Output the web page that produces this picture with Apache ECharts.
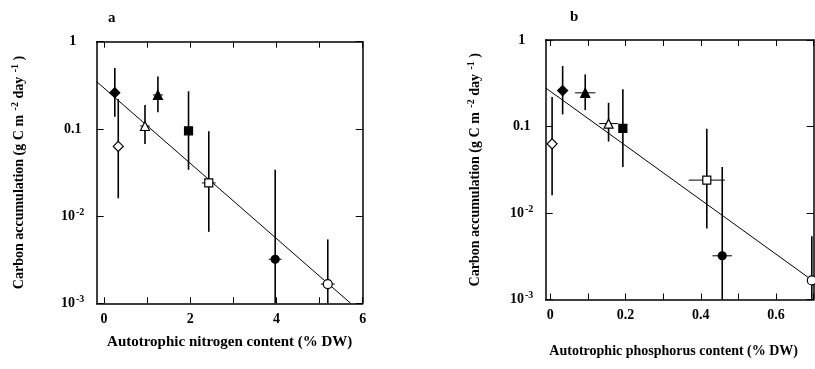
<!DOCTYPE html>
<html>
<head>
<meta charset="utf-8">
<script src="https://cdn.jsdelivr.net/npm/echarts@6/dist/echarts.min.js"></script>
<style>
html,body{margin:0;padding:0;background:#fff;}
#chart{width:815px;height:369px;}
</style>
</head>
<body>
<div id="chart"></div>
<script>
// ---- data (shared carbon accumulation values, g C m-2 day-1) ----
const carbonAcc   = [0.26, 0.063, 0.108, 0.245, 0.095, 0.024, 0.0032, 0.00166];
const carbonLow   = [0.138, 0.016, 0.067, 0.155, 0.034, 0.0066, 0.001, 0.001];
const carbonHigh  = [0.50, 0.22, 0.188, 0.40, 0.27, 0.094, 0.034, 0.0054];
// panel a: autotrophic nitrogen content (% DW)
const nitrogen    = [0.25, 0.33, 0.95, 1.25, 1.96, 2.43, 3.97, 5.19];
const nitrogenErr = [0.07, 0, 0.11, 0.115, 0, 0.16, 0.15, 0.16];
// panel b: autotrophic phosphorus content (% DW)
const phosphorus    = [0.033, 0.005, 0.155, 0.093, 0.193, 0.416, 0.457, 0.695];
const phosphorusErr = [0, 0, 0.025, 0.027, 0, 0.048, 0.026, 0.01];
// fitted regression lines (endpoints)
const fitNx = [-0.17, 5.72], fitNy = [0.348, 0.001];
const fitPx = [-0.012, 0.7], fitPy = [0.279, 0.00162];
// axis ticks
const nTicks = [0, 1, 2, 3, 4, 5, 6];
const nLabels = [0, 2, 4, 6];
const pTicks = [0, 0.1, 0.2, 0.3, 0.4, 0.5, 0.6, 0.7];
const pLabels = [0, 0.2, 0.4, 0.6];
const yTickExp = [0, -1, -2, -3];
const yTickText = ['1', '0.1', '10{sup|-2}', '10{sup|-3}'];
// marker kind per site
const markerKind = ['fdiamond', 'odiamond', 'otriangle', 'ftriangle', 'fsquare', 'osquare', 'fcircle', 'ocircle'];

const FONT = 'Liberation Serif';
const symbolMap = {
  fdiamond: ['diamond', 10, true], odiamond: ['diamond', 10, false],
  otriangle: ['triangle', 9, false], ftriangle: ['triangle', 9, true],
  fsquare: ['rect', 8, true], osquare: ['rect', 8, false],
  fcircle: ['circle', 8, true], ocircle: ['circle', 9, false]
};

function yLabel(v) {
  const e = Math.round(Math.log10(v));
  const i = yTickExp.indexOf(e);
  return i >= 0 ? yTickText[i] : '';
}
const richSup = {sup: {fontSize: 10, fontFamily: FONT, fontWeight: 'bold', color: '#000', verticalAlign: 'bottom', padding: [0, 0, 8, 1]}};

function xAxes(gi, min, max, ticks, labels, fmt, name, nameGap, namePad, nameSize) {
  const base = {
    gridIndex: gi, type: 'value', min: min, max: max,
    axisLine: {show: true, onZero: false, lineStyle: {color: '#000', width: 1.5}},
    axisTick: {show: true, inside: true, length: 6, customValues: ticks, lineStyle: {color: '#000', width: 1}},
    splitLine: {show: false}
  };
  return [
    Object.assign({}, base, {
      position: 'bottom',
      axisLabel: {show: true, customValues: labels, formatter: fmt, margin: 9, color: '#000',
        fontFamily: FONT, fontWeight: 'bold', fontSize: 14},
      name: name, nameLocation: 'middle', nameGap: nameGap,
      nameTextStyle: {fontFamily: FONT, fontWeight: 'bold', fontSize: nameSize, color: '#000', padding: namePad}
    }),
    Object.assign({}, base, {position: 'top', axisLabel: {show: false}})
  ];
}
function yAxes(gi, nameGap) {
  const base = {
    gridIndex: gi, type: 'log', logBase: 10, min: 0.001, max: 1,
    axisLine: {show: true, onZero: false, lineStyle: {color: '#000', width: 1.5}},
    axisTick: {show: true, inside: true, length: 7, lineStyle: {color: '#000', width: 1}},
    minorTick: {show: false}, splitLine: {show: false}
  };
  return [
    Object.assign({}, base, {
      position: 'left',
      axisLabel: {show: true, formatter: yLabel, margin: 24, align: 'center', color: '#000',
        fontFamily: FONT, fontWeight: 'bold', fontSize: 14, rich: richSup},
      name: 'Carbon accumulation (g C m {sup|-2} day {sup|-1} )',
      nameLocation: 'middle', nameGap: nameGap, nameRotate: 90,
      nameTextStyle: {fontFamily: FONT, fontWeight: 'bold', fontSize: 14, color: '#000', rich: richSup}
    }),
    Object.assign({}, base, {position: 'right', axisLabel: {show: false}})
  ];
}

function errorSeries(xi, yi, xs, xerr) {
  const data = xs.map((x, i) => [x, carbonAcc[i], carbonLow[i], carbonHigh[i], xerr[i]]);
  return {
    type: 'custom', xAxisIndex: xi, yAxisIndex: yi, data: data, z: 2, silent: true,
    renderItem: function (params, api) {
      const x = api.value(0), y = api.value(1), lo = api.value(2), hi = api.value(3), xe = api.value(4);
      const a = api.coord([x, hi]), b = api.coord([x, lo]);
      const children = [{type: 'line', shape: {x1: a[0], y1: a[1], x2: b[0], y2: b[1]},
        style: {stroke: '#000', lineWidth: 1.6}}];
      if (xe > 0) {
        const l = api.coord([x - xe, y]), r = api.coord([x + xe, y]);
        children.push({type: 'line', shape: {x1: l[0], y1: l[1], x2: r[0], y2: r[1]},
          style: {stroke: '#000', lineWidth: 1}});
      }
      return {type: 'group', children: children};
    }
  };
}
function markerSeries(xi, yi, xs) {
  return {
    type: 'scatter', xAxisIndex: xi, yAxisIndex: yi, z: 4, silent: true,
    data: xs.map((x, i) => {
      const m = symbolMap[markerKind[i]];
      return {value: [x, carbonAcc[i]], symbol: m[0], symbolSize: m[1],
        itemStyle: {color: m[2] ? '#000' : '#fff', borderColor: '#000', borderWidth: 1.2, opacity: 1}};
    })
  };
}
function fitSeries(xi, yi, fx, fy) {
  return {
    type: 'line', xAxisIndex: xi, yAxisIndex: yi, z: 3, silent: true, symbol: 'none',
    data: fx.map((x, i) => [x, fy[i]]),
    lineStyle: {color: '#000', width: 1}
  };
}

const nFmt = v => String(v);
const pFmt = v => (Math.abs(v) < 1e-9 ? '0' : v.toFixed(1));

const option = {
  backgroundColor: '#fff',
  animation: false,
  title: [
    {text: 'a', left: 103, top: 6, textStyle: {fontFamily: FONT, fontWeight: 'bold', fontSize: 15, color: '#000'}},
    {text: 'b', left: 565, top: 5, textStyle: {fontFamily: FONT, fontWeight: 'bold', fontSize: 15, color: '#000'}}
  ],
  grid: [
    {left: 96.7, top: 41.7, width: 266, height: 261.6},
    {left: 545.7, top: 40, width: 268, height: 259.5}
  ],
  xAxis: [].concat(
    xAxes(0, -0.17, 6, nTicks, nLabels, nFmt, 'Autotrophic nitrogen content (% DW)', 31, [0, 0, 0, 0], 15),
    xAxes(1, -0.012, 0.7, pTicks, pLabels, pFmt, 'Autotrophic phosphorus content (% DW)', 45, [0, 12, 0, 0], 14)
  ),
  yAxis: [].concat(yAxes(0, 68), yAxes(1, 61)),
  series: [
    fitSeries(0, 0, fitNx, fitNy),
    errorSeries(0, 0, nitrogen, nitrogenErr),
    markerSeries(0, 0, nitrogen),
    fitSeries(2, 2, fitPx, fitPy),
    errorSeries(2, 2, phosphorus, phosphorusErr),
    markerSeries(2, 2, phosphorus)
  ]
};
const chart = echarts.init(document.getElementById('chart'), null, {renderer: 'canvas'});
chart.setOption(option);
</script>
</body>
</html>
